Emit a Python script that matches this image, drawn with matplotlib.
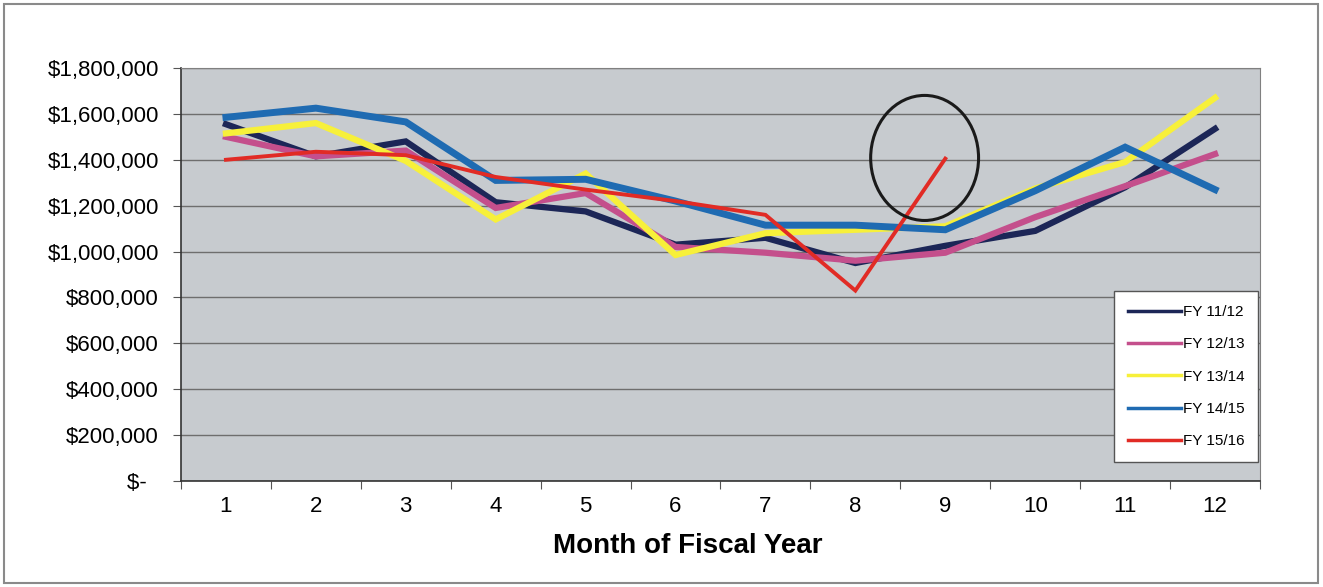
"""Monthly revenue by fiscal year, line chart draft (matplotlib, Agg backend)."""

import matplotlib

matplotlib.use("Agg")
import matplotlib.pyplot as plt
from matplotlib.patches import Ellipse, Rectangle
from matplotlib.ticker import FuncFormatter

plt.rcParams["font.family"] = ["Liberation Sans", "DejaVu Sans"]

months = [1, 2, 3, 4, 5, 6, 7, 8, 9, 10, 11, 12]
fy_11_12 = [1555000, 1415000, 1480000, 1215000, 1175000, 1030000,
            1060000, 950000, 1025000, 1090000, 1280000, 1535000]
fy_12_13 = [1500000, 1415000, 1440000, 1190000, 1255000, 1020000,
            995000, 960000, 995000, 1150000, 1285000, 1425000]
fy_13_14 = [1515000, 1560000, 1395000, 1140000, 1340000, 985000,
            1080000, 1095000, 1110000, 1275000, 1390000, 1670000]
fy_14_15 = [1585000, 1625000, 1565000, 1310000, 1315000, 1220000,
            1115000, 1115000, 1095000, 1265000, 1455000, 1270000]
fy_15_16 = [1400000, 1435000, 1420000, 1325000, 1270000, 1220000,
            1160000, 830000, 1405000]

series = [
    ("FY 11/12", fy_11_12, "#1c2657", 4.5),
    ("FY 12/13", fy_12_13, "#c44f8c", 4.5),
    ("FY 13/14", fy_13_14, "#f7f03a", 4.5),
    ("FY 14/15", fy_14_15, "#1f6bb2", 5.0),
    ("FY 15/16", fy_15_16, "#e12b25", 2.8),
]

fig = plt.figure(figsize=(13.23, 5.87), dpi=100)
ax = fig.add_axes([181 / 1323, 1 - 481 / 587, 1079 / 1323, 413 / 587])
ax.set_facecolor("#c7cbcf")

for label, values, color, lw in series:
    ax.plot(months[:len(values)], values, color=color, lw=lw,
            solid_joinstyle="miter", label=label, zorder=3)

# highlight around month 9 of the current year
ax.add_patch(Ellipse((8.77, 1408000), 1.2, 545000, fill=False,
                     edgecolor="#1a1a1a", lw=2.2, zorder=4))

ax.set_xlim(0.5, 12.5)
ax.set_ylim(0, 1800000)
ax.set_yticks(range(0, 1800001, 200000))
ax.yaxis.set_major_formatter(FuncFormatter(
    lambda v, _: "$-  " if v == 0 else f"${v:,.0f}"))
ax.grid(axis="y", color="#6e6e6e", lw=1.0, zorder=1)

# category ticks between months, labels centred on months
ax.set_xticks([m + 0.5 for m in [0] + months])
ax.set_xticklabels([])
ax.set_xticks(months, minor=True)
ax.set_xticklabels([str(m) for m in months], minor=True)
ax.tick_params(axis="x", which="major", length=6, color="#555555")
ax.tick_params(axis="x", which="minor", length=0, pad=11, labelsize=16)
ax.tick_params(axis="y", length=6, pad=10, labelsize=16, color="#555555")

for side in ("top", "right"):
    ax.spines[side].set_color("#808080")
for side in ("left", "bottom"):
    ax.spines[side].set_color("#333333")
    ax.spines[side].set_linewidth(1.2)

fig.text(688 / 1323, 1 - 546 / 587, "Month of Fiscal Year",
         ha="center", va="center", fontsize=20, fontweight="bold")

leg = ax.legend(loc="lower right", bbox_to_anchor=(0.9985, 19 / 413),
                borderaxespad=0, fontsize=11, frameon=True, fancybox=False,
                handlelength=3.5, handletextpad=0.1, labelspacing=1.2,
                borderpad=0.9)
leg.get_frame().set_edgecolor("#555555")
leg.get_frame().set_facecolor("white")
leg.get_frame().set_alpha(1)
for line in leg.get_lines():
    line.set_linewidth(2.5)

fig.patches.append(Rectangle((4 / 1323, 4 / 587), 1314 / 1323, 579 / 587,
                             transform=fig.transFigure, fill=False,
                             edgecolor="#8a8a8a", lw=1.5))

fig.savefig("out.png", dpi=100)
plt.close(fig)
